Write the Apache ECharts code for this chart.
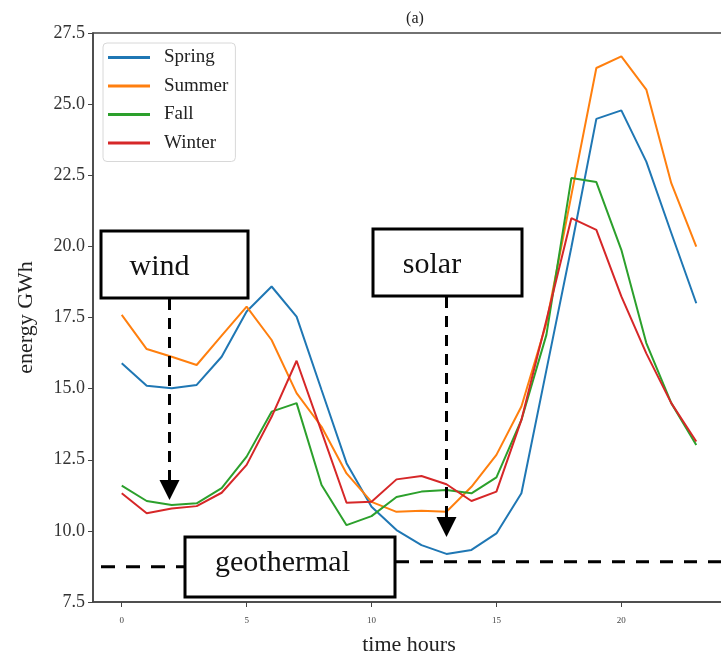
<!DOCTYPE html>
<html>
<head>
<meta charset="utf-8">
<script src="https://cdn.jsdelivr.net/npm/echarts@6/dist/echarts.min.js"></script>
<style>
html,body{margin:0;padding:0;background:#fff;}
#chart{width:721px;height:657px;}
</style>
</head>
<body>
<div id="chart"></div>
<script>
// ---- data ----
const hours = [0,1,2,3,4,5,6,7,8,9,10,11,12,13,14,15,16,17,18,19,20,21,22,23];
const seriesNames = ['Spring','Summer','Fall','Winter'];
const spring = [15.89,15.10,15.01,15.13,16.12,17.71,18.59,17.53,14.95,12.38,10.85,10.03,9.50,9.19,9.33,9.91,11.32,15.65,19.97,24.48,24.78,22.98,20.47,18.00];
const summer = [17.59,16.39,16.12,15.83,16.86,17.88,16.71,14.84,13.66,12.02,11.02,10.67,10.71,10.67,11.55,12.67,14.37,17.30,21.80,26.27,26.68,25.51,22.22,19.99];
const fall   = [11.59,11.05,10.91,10.97,11.50,12.61,14.19,14.49,11.61,10.20,10.52,11.19,11.38,11.44,11.32,11.88,13.90,16.89,22.40,22.26,19.88,16.60,14.49,13.02];
const winter = [11.32,10.62,10.79,10.87,11.34,12.32,14.01,15.98,13.49,10.99,11.02,11.81,11.93,11.64,11.05,11.38,13.90,17.40,20.99,20.58,18.24,16.24,14.49,13.14];
const xTicks = [0,5,10,15,20];
const yMin = 7.5, yMax = 27.5, yStep = 2.5;
const xMin = -1.15, xMax = 24.15;
const titleText = '(a)';
const xName = 'time hours';
const yName = 'energy GWh';

const colors = ['#1f77b4','#ff7f0e','#2ca02c','#d62728'];
const allValues = [spring, summer, fall, winter];
const FONT = '"Liberation Serif", "Times New Roman", serif';

const chart = echarts.init(document.getElementById('chart'), null, {renderer:'canvas'});

const series = allValues.map((vals, i) => ({
  name: seriesNames[i],
  type: 'line',
  data: hours.map((h, k) => [h, vals[k]]),
  symbol: 'none',
  lineStyle: {width: 2, color: colors[i]},
  itemStyle: {color: colors[i]},
  animation: false,
  z: 3
}));

const option = {
  animation: false,
  backgroundColor: '#fff',
  title: {
    text: titleText, left: 410, top: 6, textAlign: 'center',
    textStyle: {fontFamily: FONT, fontSize: 16, fontWeight: 'normal', color: '#222'}
  },
  grid: {
    left: 93, top: 33, width: 632, height: 569,
    outerBoundsMode: 'none', containLabel: false,
    show: true, borderColor: '#444', borderWidth: 1.5, backgroundColor: 'transparent'
  },
  legend: {
    left: 103, top: 43, orient: 'vertical',
    data: seriesNames,
    icon: 'rect', itemWidth: 42, itemHeight: 3, itemGap: 9.5,
    padding: [5, 7, 9, 5],
    borderColor: '#d8d8d8', borderWidth: 1, borderRadius: 4, backgroundColor: '#fff',
    textStyle: {fontFamily: FONT, fontSize: 19, color: '#222', lineHeight: 19, padding: [0,0,0,9]}
  },
  xAxis: {
    type: 'value', min: xMin, max: xMax,
    name: xName, nameLocation: 'middle', nameGap: 32,
    nameTextStyle: {fontFamily: FONT, fontSize: 22, color: '#222'},
    axisLine: {show: true, onZero: false, lineStyle: {color: '#444', width: 1.5}},
    axisTick: {show: true, length: 5, customValues: xTicks, lineStyle: {color: '#444', width: 1}},
    axisLabel: {show: true, customValues: xTicks, margin: 14, fontFamily: FONT, fontSize: 9, color: '#444'},
    splitLine: {show: false}
  },
  yAxis: {
    type: 'value', min: yMin, max: yMax, interval: yStep,
    name: yName, nameLocation: 'middle', nameGap: 56,
    nameTextStyle: {fontFamily: FONT, fontSize: 22, color: '#222'},
    axisLine: {show: true, onZero: false, lineStyle: {color: '#444', width: 1.5}},
    axisTick: {show: true, length: 5, lineStyle: {color: '#444', width: 1}},
    axisLabel: {show: true, margin: 8, fontFamily: FONT, fontSize: 18, color: '#333',
      formatter: v => v.toFixed(1)},
    splitLine: {show: false}
  },
  series: series
};
chart.setOption(option);

// ---- annotations (boxes, arrows, geothermal line) ----
const black = '#000';
function box(x, y, w, h) {
  return {type: 'rect', shape: {x: x, y: y, width: w, height: h}, z: 20,
    style: {fill: '#fff', stroke: black, lineWidth: 3}};
}
function label(t, x, y) {
  return {type: 'text', z: 21, style: {text: t, x: x, y: y, fill: '#111',
    font: '30px ' + FONT, textAlign: 'center', textVerticalAlign: 'middle'}};
}
function dashed(x1, y1, x2, y2, dash) {
  return {type: 'line', z: 19, shape: {x1: x1, y1: y1, x2: x2, y2: y2},
    style: {stroke: black, lineWidth: 3, lineDash: dash}};
}
function head(cx, top, tip, hw) {
  return {type: 'polygon', z: 21, shape: {points: [[cx - hw, top], [cx + hw, top], [cx, tip]]},
    style: {fill: black}};
}
chart.setOption({
  graphic: [
    dashed(101, 566.7, 185, 566.7, [14, 11]),
    dashed(396, 561.7, 725, 561.7, [13, 11]),
    box(185, 537, 210, 60),
    label('geothermal', 282.5, 563),
    dashed(169.5, 299, 169.5, 481, [11, 8]),
    head(169.5, 480, 500, 10),
    box(101, 231, 147, 67),
    label('wind', 159.5, 267),
    dashed(446.5, 297, 446.5, 518, [11, 8]),
    head(446.5, 517, 537, 10),
    box(373, 229, 149, 67),
    label('solar', 432, 265)
  ]
});
</script>
</body>
</html>
